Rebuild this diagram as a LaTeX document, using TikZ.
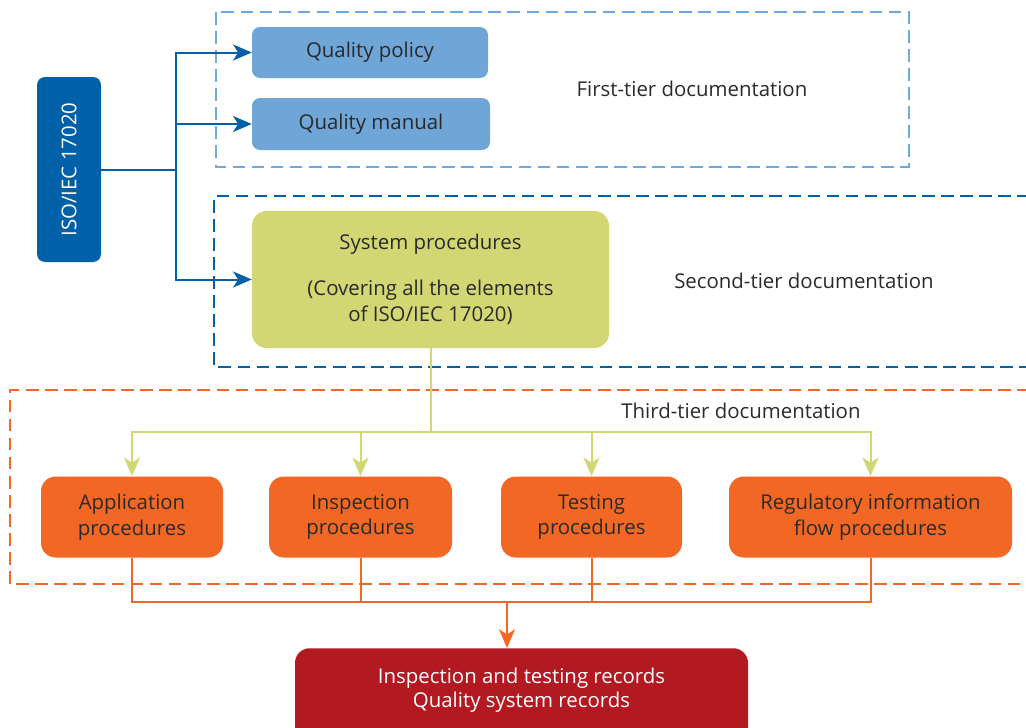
\documentclass[tikz,border=0pt]{standalone}
\usepackage{fontspec}
\setmainfont{Open Sans}
\usetikzlibrary{arrows.meta}
\definecolor{isoblue}{HTML}{0061A8}
\definecolor{lightblue}{HTML}{6FA5D7}
\definecolor{dashblue}{HTML}{6FA8DC}
\definecolor{olivey}{HTML}{D3D773}
\definecolor{orng}{HTML}{F26724}
\definecolor{recred}{HTML}{B31921}
\definecolor{txt}{HTML}{2A2A2A}
\begin{document}
\begin{tikzpicture}[x=0.75pt,y=-0.75pt,
  font=\fontsize{15.3}{19.2}\selectfont,
  anybox/.style={inner sep=0pt, align=center, text=txt},
  isobox/.style={anybox, fill=isoblue, rounded corners=6pt, text=white},
  qbox/.style={anybox, fill=lightblue, rounded corners=6pt},
  spbox/.style={anybox, fill=olivey, rounded corners=11pt},
  obox/.style={anybox, fill=orng, rounded corners=11pt},
  recbox/.style={anybox, fill=recred, rounded corners=11pt},
  rectext/.style={anybox, text=white, font=\fontsize{15.3}{18}\selectfont},
  tierlabel/.style={anybox},
  tierdash/.style={line width=1.9pt, dash pattern=on 9.5pt off 4.8pt},
  bluecon/.style={draw=isoblue, line width=1.5pt},
  olivecon/.style={draw=olivey, line width=1.5pt},
  orngcon/.style={draw=orng, line width=1.5pt},
  tip/.style={-{Stealth[length=14pt,width=12pt,inset=3.8pt]}}
]
\useasboundingbox (0,0) rectangle (1026,728);
\clip (0,0) rectangle (1026,728);

% tier frames
\draw[tierdash, draw=dashblue] (216,12) rectangle (909,167);
\draw[tierdash, draw=isoblue] (1030,196) -- (214,196) -- (214,367) -- (1030,367);
\draw[tierdash, draw=orng] (1030,390) -- (10,390) -- (10,584) -- (1030,584);

% tier labels
\node[tierlabel] (t1) at (692,89) {First-tier documentation};
\node[tierlabel] (t2) at (804,281) {Second-tier documentation};
\node[tierlabel] (t3) at (741,411) {Third-tier documentation};

% boxes
\node[isobox, minimum width=64*0.75pt, minimum height=185*0.75pt] (iso) at (69,169.5) {};
\node[text=white, rotate=90, inner sep=0pt] (isot) at (iso.center) {ISO/IEC 17020};
\node[qbox, minimum width=236*0.75pt, minimum height=51*0.75pt] (qp) at (370,52.5) {Quality policy};
\node[qbox, minimum width=238*0.75pt, minimum height=52*0.75pt] (qm) at (371,124) {Quality manual};
\node[spbox, minimum width=357*0.75pt, minimum height=137*0.75pt] (sp) at (430.5,279.5)
  {System procedures\\[15.3pt](Covering all the elements\\of ISO/IEC 17020)};
\node[obox, minimum width=182*0.75pt, minimum height=81*0.75pt] (app) at (132,517) {Application\\procedures};
\node[obox, minimum width=183*0.75pt, minimum height=81*0.75pt] (ins) at (360.5,517) {Inspection\\procedures};
\node[obox, minimum width=181*0.75pt, minimum height=81*0.75pt] (tst) at (591.5,517) {Testing\\procedures};
\node[obox, minimum width=283*0.75pt, minimum height=81*0.75pt] (reg) at (870.5,517) {Regulatory information\\flow procedures};
\node[recbox, anchor=north, minimum width=453*0.75pt, minimum height=120*0.75pt] (rec) at (521.5,648) {};
\node[rectext] (rect) at (521.5,690) {Inspection and testing records\\Quality system records};

% blue connectors
\draw[bluecon] (iso.east) -- ++(75,0) coordinate (bj);
\draw[bluecon, tip] (bj) |- (qp.west);
\draw[bluecon, tip] (bj) |- (qm.west);
\draw[bluecon, tip] (bj) |- (sp.west);

% olive connectors
\draw[olivecon] (sp.south) -- ++(0,84) coordinate (oj);
\draw[olivecon, tip] (oj) -| (app.north);
\draw[olivecon, tip] (oj) -| (ins.north);
\draw[olivecon, tip] (oj) -| (tst.north);
\draw[olivecon, tip] (oj) -| (reg.north);

% orange connectors
\coordinate (rj) at (507,602);
\draw[orngcon] (app.south) |- (rj);
\draw[orngcon] (ins.south) |- (rj);
\draw[orngcon] (tst.south) |- (rj);
\draw[orngcon] (reg.south) |- (rj);
\draw[orngcon, tip] (rj) -- (rj |- rec.north);
\end{tikzpicture}
\end{document}
